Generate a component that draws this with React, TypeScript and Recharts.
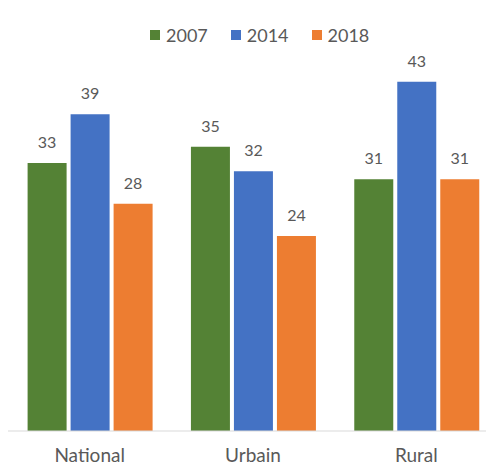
import { Bar, BarChart, LabelList, XAxis, YAxis } from "recharts";

const categories = ["National", "Urbain", "Rural"];
const values2007 = [33, 35, 31];
const values2014 = [39, 32, 43];
const values2018 = [28, 24, 31];

const SERIES = [
  { key: "2007", color: "#548235" },
  { key: "2014", color: "#4472C4" },
  { key: "2018", color: "#ED7D31" },
];

const TEXT_COLOR = "#595959";
const FONT = "Lato, 'Open Sans', sans-serif";

export default function App() {
  const data = categories.map((name, i) => ({
    name,
    "2007": values2007[i],
    "2014": values2014[i],
    "2018": values2018[i],
  }));

  return (
    <div
      style={{
        position: "relative",
        width: 494,
        height: 467,
        margin: "-8px 0 0 -8px",
        overflow: "hidden",
        background: "#fff",
        fontFamily: FONT,
      }}
    >
      <BarChart
        width={498}
        height={467}
        data={data}
        margin={{ top: 25, right: 0, left: 8, bottom: 6 }}
        barCategoryGap="12%"
        barGap={4}
      >
        <XAxis
          dataKey="name"
          height={30}
          tickLine={false}
          tickMargin={12}
          axisLine={{ stroke: "#d9d9d9" }}
          tick={{ fill: TEXT_COLOR, fontSize: 19, fontFamily: FONT }}
          interval={0}
        />
        <YAxis hide domain={[0, 50]} />
        {SERIES.map((s) => (
          <Bar key={s.key} dataKey={s.key} fill={s.color} isAnimationActive={false}>
            <LabelList
              dataKey={s.key}
              position="top"
              offset={15}
              fill={TEXT_COLOR}
              fontSize={16}
              fontFamily={FONT}
            />
          </Bar>
        ))}
      </BarChart>

      {/* legend drawn by hand, Excel style */}
      <div
        style={{
          position: "absolute",
          left: 150,
          top: 24,
          display: "flex",
          alignItems: "center",
          gap: 23,
          fontSize: 18,
          color: TEXT_COLOR,
          lineHeight: "22px",
        }}
      >
        {SERIES.map((s) => (
          <span key={s.key} style={{ display: "flex", alignItems: "center", gap: 6 }}>
            <span
              style={{ display: "inline-block", width: 10, height: 10, backgroundColor: s.color }}
            />
            {s.key}
          </span>
        ))}
      </div>
    </div>
  );
}
